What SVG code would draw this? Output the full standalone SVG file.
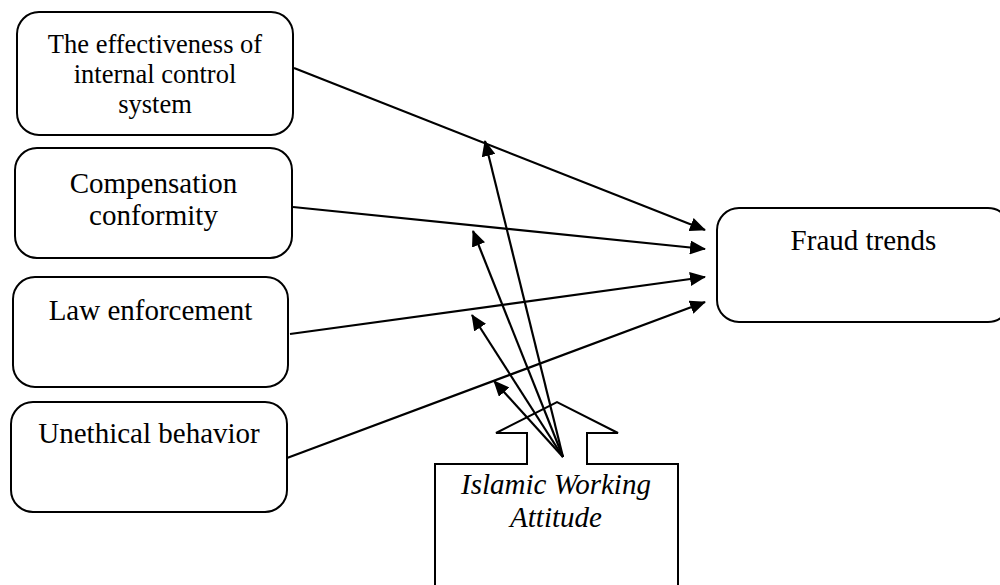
<svg xmlns="http://www.w3.org/2000/svg" width="1000" height="585" viewBox="0 0 1000 585">
<style>
.box{fill:#fff;stroke:#000;stroke-width:2}
.t{font-family:"Liberation Serif","Times New Roman",serif;font-size:29px;fill:#000;text-anchor:middle}
.t1{font-size:26.5px}
.it{font-style:italic}
.c{stroke:#000;stroke-width:2.2;fill:none;marker-end:url(#ah)}
</style>
<defs>
<marker id="ah" markerUnits="userSpaceOnUse" markerWidth="16" markerHeight="14" viewBox="0 0 16 14" refX="15" refY="7" orient="auto">
<path d="M0,0 L16,7 L0,14 z" fill="#000"/>
</marker>
</defs>
<rect width="1000" height="585" fill="#fff"/>
<g id="n1"><rect class="box" x="17" y="12" width="276" height="123" rx="22"/>
<text class="t t1" x="155" y="53">The effectiveness of</text>
<text class="t t1" x="155" y="83">internal control</text>
<text class="t t1" x="155" y="113">system</text></g>
<g id="n2"><rect class="box" x="15" y="148" width="277" height="110" rx="22"/>
<text class="t" x="153.5" y="193">Compensation</text>
<text class="t" x="153.5" y="225">conformity</text></g>
<g id="n3"><rect class="box" x="13" y="277" width="275" height="110" rx="22"/>
<text class="t" x="150.5" y="320">Law enforcement</text></g>
<g id="n4"><rect class="box" x="11" y="402" width="276" height="110" rx="22"/>
<text class="t" x="149" y="443">Unethical behavior</text></g>
<g id="n5"><rect class="box" x="717" y="208" width="293" height="114" rx="22"/>
<text class="t" x="863.5" y="250">Fraud trends</text></g>
<g id="n6"><path class="box" d="M435,590 L435,464 L527,464 L527,433 L496,433 L557,402 L618,433 L587,433 L587,464 L678,464 L678,590"/>
<text class="t it" x="556" y="494">Islamic Working</text>
<text class="t it" x="556" y="527">Attitude</text></g>
<g id="connectors">
<line class="c" x1="294" y1="68" x2="705" y2="230"/>
<line class="c" x1="293" y1="207" x2="705" y2="249"/>
<line class="c" x1="290" y1="334" x2="705" y2="277"/>
<line class="c" x1="287" y1="458" x2="705" y2="302"/>
<line class="c" x1="563" y1="457" x2="485" y2="141"/>
<line class="c" x1="563" y1="457" x2="473" y2="231"/>
<line class="c" x1="563" y1="457" x2="472" y2="315"/>
<line class="c" x1="563" y1="457" x2="494" y2="381"/>
</g>
</svg>
